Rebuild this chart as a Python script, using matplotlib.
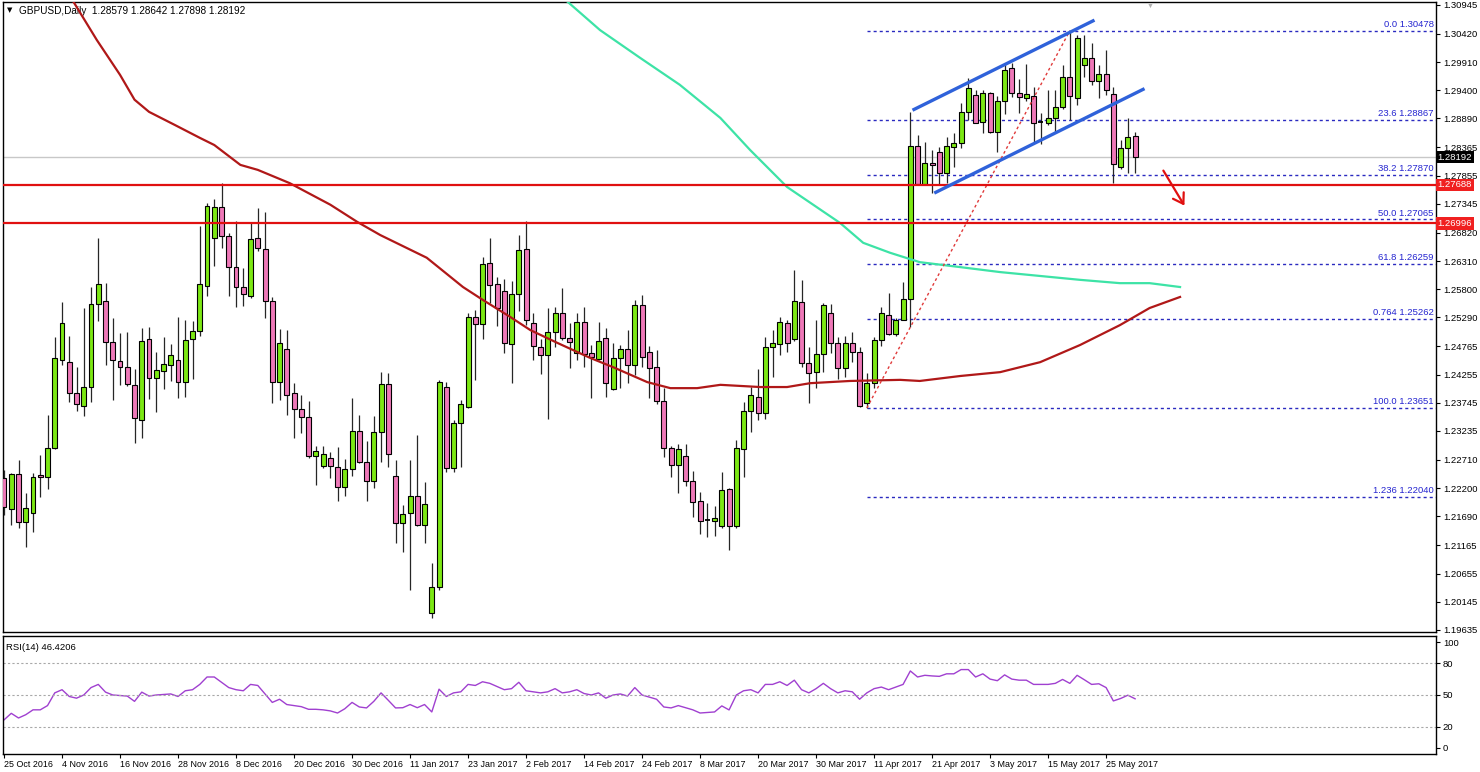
import matplotlib
matplotlib.use("Agg")
import matplotlib.pyplot as plt
from matplotlib.patches import Rectangle

plt.rcParams['font.family'] = ['Liberation Sans', 'DejaVu Sans']

# ---------------- data ----------------
opens = [1.2238, 1.2182, 1.2246, 1.2159, 1.2175, 1.2243, 1.2240, 1.2293, 1.2452, 1.2448,
         1.2392, 1.2369, 1.2403, 1.2553, 1.2559, 1.2485, 1.2450, 1.2439, 1.2407, 1.2343,
         1.2490, 1.2419, 1.2432, 1.2443, 1.2452, 1.2412, 1.2490, 1.2505, 1.2586, 1.2673,
         1.2729, 1.2676, 1.2620, 1.2584, 1.2568, 1.2673, 1.2653, 1.2559, 1.2412, 1.2472,
         1.2392, 1.2363, 1.2349, 1.2278, 1.2260, 1.2275, 1.2258, 1.2222, 1.2255, 1.2323,
         1.2267, 1.2233, 1.2322, 1.2409, 1.2242, 1.2157, 1.2175, 1.2206, 1.2153, 1.1994,
         1.2041, 1.2403, 1.2257, 1.2338, 1.2367, 1.2530, 1.2517, 1.2628, 1.2590, 1.2577,
         1.2481, 1.2572, 1.2653, 1.2519, 1.2475, 1.2461, 1.2503, 1.2537, 1.2492, 1.2465,
         1.2521, 1.2465, 1.2454, 1.2492, 1.2400, 1.2456, 1.2471, 1.2443, 1.2552, 1.2467,
         1.2439, 1.2378, 1.2293, 1.2262, 1.2278, 1.2233, 1.2197, 1.2162, 1.2161, 1.2152,
         1.2219, 1.2152, 1.2291, 1.2360, 1.2385, 1.2356, 1.2476, 1.2481, 1.2519, 1.2490,
         1.2557, 1.2447, 1.2430, 1.2463, 1.2537, 1.2483, 1.2438, 1.2483, 1.2467, 1.2374,
         1.2410, 1.2488, 1.2534, 1.2499, 1.2524, 1.2562, 1.2839, 1.2771, 1.2809, 1.2829,
         1.2790, 1.2838, 1.2845, 1.2901, 1.2932, 1.2883, 1.2935, 1.2864, 1.2921, 1.2980,
         1.2935, 1.2926, 1.2930, 1.2883, 1.2881, 1.2890, 1.2910, 1.2964, 1.2926, 1.2986,
         1.2999, 1.2957, 1.2970, 1.2933, 1.2801, 1.2836, 1.28579]
highs = [1.2253, 1.2248, 1.2271, 1.2211, 1.2248, 1.2280, 1.2352, 1.2494, 1.2557, 1.2495,
         1.2439, 1.2546, 1.2584, 1.2673, 1.2591, 1.2528, 1.2501, 1.2503, 1.2436, 1.2510,
         1.2512, 1.2467, 1.2494, 1.2481, 1.2530, 1.2524, 1.2523, 1.2695, 1.2736, 1.2743,
         1.2772, 1.2682, 1.2704, 1.2619, 1.2700, 1.2727, 1.2720, 1.2566, 1.2508, 1.2506,
         1.2410, 1.2389, 1.2378, 1.2296, 1.2296, 1.2285, 1.2294, 1.2273, 1.2383, 1.2352,
         1.2305, 1.2351, 1.2430, 1.2428, 1.2271, 1.2190, 1.2271, 1.2316, 1.2231, 1.2085,
         1.2416, 1.2412, 1.2343, 1.2380, 1.2537, 1.2543, 1.2638, 1.2673, 1.2602, 1.2599,
         1.2595, 1.2678, 1.2704, 1.2537, 1.2490, 1.2546, 1.2548, 1.2582, 1.2519, 1.2537,
         1.2548, 1.2479, 1.2521, 1.2510, 1.2483, 1.2479, 1.2506, 1.2561, 1.2570, 1.2477,
         1.2470, 1.2401, 1.2296, 1.2300, 1.2300, 1.2251, 1.2213, 1.2193, 1.2188, 1.2249,
         1.2220, 1.2307, 1.2376, 1.2403, 1.2436, 1.2494, 1.2506, 1.2530, 1.2524, 1.2615,
         1.2597, 1.2476, 1.2524, 1.2555, 1.2553, 1.2494, 1.2495, 1.2503, 1.2476, 1.2429,
         1.2494, 1.2548, 1.2573, 1.2528, 1.2593, 1.2901, 1.2859, 1.2847, 1.2832, 1.2838,
         1.2856, 1.2863, 1.2917, 1.2962, 1.2941, 1.2941, 1.2937, 1.2930, 1.2990, 1.2990,
         1.2961, 1.2988, 1.2946, 1.2899, 1.2941, 1.2941, 1.2986, 1.30478, 1.3040, 1.3040,
         1.3026, 1.2986, 1.3013, 1.2946, 1.2850, 1.2890, 1.28642]
lows = [1.2172, 1.2153, 1.2148, 1.2114, 1.2141, 1.2204, 1.2218, 1.2290, 1.2443, 1.2376,
        1.2360, 1.2351, 1.2376, 1.2523, 1.2443, 1.2380, 1.2407, 1.2405, 1.2302, 1.2311,
        1.2381, 1.2358, 1.2400, 1.2414, 1.2383, 1.2385, 1.2418, 1.2495, 1.2568, 1.2622,
        1.2655, 1.2568, 1.2548, 1.2550, 1.2564, 1.2649, 1.2528, 1.2374, 1.2380, 1.2352,
        1.2311, 1.2320, 1.2275, 1.2226, 1.2256, 1.2238, 1.2197, 1.2206, 1.2242, 1.2266,
        1.2197, 1.2220, 1.2267, 1.2258, 1.2121, 1.2104, 1.2036, 1.2152, 1.2121, 1.1985,
        1.2036, 1.2249, 1.2249, 1.2258, 1.2365, 1.2416, 1.2490, 1.2555, 1.2514, 1.2465,
        1.2410, 1.2541, 1.2515, 1.2452, 1.2427, 1.2345, 1.2476, 1.2488, 1.2438, 1.2452,
        1.2439, 1.2383, 1.2452, 1.2385, 1.2398, 1.2401, 1.2410, 1.2425, 1.2439, 1.2383,
        1.2372, 1.2276, 1.2240, 1.2211, 1.2224, 1.2168, 1.2137, 1.2132, 1.2133, 1.2148,
        1.2108, 1.2148, 1.2240, 1.2322, 1.2343, 1.2345, 1.2421, 1.2461, 1.2467, 1.2486,
        1.2439, 1.2374, 1.2401, 1.2430, 1.2465, 1.2418, 1.2421, 1.2448, 1.2367, 1.23651,
        1.2401, 1.2477, 1.2497, 1.2495, 1.2524, 1.2512, 1.2769, 1.2770, 1.2754, 1.2769,
        1.2772, 1.2801, 1.2836, 1.2886, 1.2880, 1.2863, 1.2862, 1.2828, 1.2897, 1.2928,
        1.2899, 1.2921, 1.2847, 1.2843, 1.2877, 1.2863, 1.2906, 1.2886, 1.2914, 1.2964,
        1.2950, 1.2926, 1.2932, 1.2772, 1.2798, 1.2790, 1.27898]
closes = [1.2186, 1.2246, 1.2159, 1.2184, 1.2240, 1.2240, 1.2293, 1.2456, 1.2519, 1.2392,
          1.2372, 1.2403, 1.2553, 1.2590, 1.2485, 1.2452, 1.2439, 1.2409, 1.2347, 1.2486,
          1.2419, 1.2434, 1.2445, 1.2461, 1.2412, 1.2488, 1.2505, 1.2590, 1.2731, 1.2729,
          1.2676, 1.2620, 1.2584, 1.2572, 1.2671, 1.2655, 1.2559, 1.2412, 1.2483, 1.2389,
          1.2363, 1.2349, 1.2278, 1.2287, 1.2282, 1.2260, 1.2222, 1.2255, 1.2323, 1.2267,
          1.2233, 1.2322, 1.2409, 1.2282, 1.2157, 1.2173, 1.2206, 1.2153, 1.2191, 1.2041,
          1.2412, 1.2257, 1.2338, 1.2372, 1.2530, 1.2517, 1.2626, 1.2588, 1.2546, 1.2483,
          1.2572, 1.2651, 1.2524, 1.2477, 1.2461, 1.2503, 1.2537, 1.2492, 1.2485, 1.2521,
          1.2463, 1.2457, 1.2486, 1.2410, 1.2456, 1.2471, 1.2443, 1.2552, 1.2457, 1.2438,
          1.2378, 1.2293, 1.2262, 1.2291, 1.2233, 1.2195, 1.2161, 1.2161, 1.2166, 1.2217,
          1.2152, 1.2293, 1.2360, 1.2389, 1.2356, 1.2476, 1.2483, 1.2521, 1.2483, 1.2559,
          1.2447, 1.2429, 1.2463, 1.2552, 1.2483, 1.2438, 1.2483, 1.2467, 1.2369, 1.2410,
          1.2488, 1.2537, 1.2499, 1.2524, 1.2562, 1.2839, 1.2771, 1.2809, 1.2805, 1.2790,
          1.2839, 1.2845, 1.2901, 1.2944, 1.2881, 1.2935, 1.2864, 1.2921, 1.2977, 1.2935,
          1.2928, 1.2934, 1.2881, 1.2882, 1.2890, 1.2910, 1.2964, 1.2930, 1.3035, 1.2999,
          1.2957, 1.2970, 1.2941, 1.2807, 1.2836, 1.2856, 1.28192]

rsi = [26.5, 32.7, 28.3, 31.4, 36, 36, 40, 52, 55, 48.6, 47, 50, 57, 60, 52.7, 50, 49.5, 49,
       44, 52.7, 49, 50, 50.5, 51, 48.6, 54, 55, 60, 67, 67, 62, 57, 55, 54, 60, 59, 51, 43,
       46, 41, 40, 39, 36.5, 36.5, 36, 35, 33, 37, 43, 38.7, 37.8, 44, 52, 45, 37.8, 38, 41,
       38, 41, 34, 55.5, 48.6, 52, 53, 60, 59, 62.5, 61, 58, 55, 56, 62, 54, 53, 52, 53, 56,
       52, 53, 55, 51.4, 50, 52, 47, 50, 51, 49, 57, 50, 48, 46, 38.7, 37.8, 40, 38, 36, 33,
       33.5, 34, 39.7, 35.9, 50, 54, 55, 52, 60, 60, 62.5, 59, 64, 55, 52, 56, 61, 56, 52, 54,
       53, 46, 52, 56, 57.5, 55, 57.5, 60, 72.7, 67, 68.6, 68, 67.6, 70, 70, 74, 74, 67, 70,
       65, 63.5, 69, 65, 64, 64, 60, 60, 60, 61, 64.7, 61, 68.6, 64.4, 60, 60.6, 57, 44.4,
       46.7, 49.8, 46.4206]

# moving averages (bar index, price)
ma_red_idx = [8, 9.4, 12.8, 16, 18, 20, 23.6, 27, 29, 32.6, 35, 39.4, 45, 48.7, 51.9, 58.3,
              60, 63.3, 66, 69.8, 72.6, 76.3, 80.8, 84, 88.7, 91.9, 95.6, 98.8, 104.3, 108,
              111.2, 116.7, 123.6, 126.3, 131.9, 137.4, 142.9, 148.4, 153.9, 158, 162.2]
ma_red_val = [1.3131, 1.3104, 1.3031, 1.2968, 1.2923, 1.2901, 1.2877, 1.2854, 1.2841, 1.2805,
              1.2796, 1.2772, 1.2733, 1.2702, 1.2678, 1.2637, 1.2619, 1.2584, 1.2561, 1.2530,
              1.2506, 1.2483, 1.2456, 1.2439, 1.2412, 1.2401, 1.2401, 1.2407, 1.2403, 1.2403,
              1.2410, 1.2414, 1.2416, 1.2414, 1.2423, 1.2430, 1.2448, 1.2479, 1.2515, 1.2546,
              1.2566]
ma_teal_idx = [76, 77.4, 82.2, 87.7, 93.2, 98.8, 102.9, 108, 115.3, 118.5, 122.2, 126.3,
               131.9, 137.4, 142.9, 148.4, 153.9, 158, 162.2]
ma_teal_val = [1.3118, 1.3104, 1.3049, 1.2999, 1.2950, 1.2890, 1.2832, 1.2765, 1.2700, 1.2664,
               1.2646, 1.2629, 1.2620, 1.2611, 1.2604, 1.2597, 1.2591, 1.2591, 1.2584]

date_labels = ["25 Oct 2016", "4 Nov 2016", "16 Nov 2016", "28 Nov 2016", "8 Dec 2016",
               "20 Dec 2016", "30 Dec 2016", "11 Jan 2017", "23 Jan 2017", "2 Feb 2017",
               "14 Feb 2017", "24 Feb 2017", "8 Mar 2017", "20 Mar 2017", "30 Mar 2017",
               "11 Apr 2017", "21 Apr 2017", "3 May 2017", "15 May 2017", "25 May 2017"]
date_idx = [0, 8, 16, 24, 32, 40, 48, 56, 64, 72, 80, 88, 96, 104, 112, 120, 128, 136, 144, 152]

price_ticks = [1.30945, 1.30420, 1.29910, 1.29400, 1.28890, 1.28365, 1.27855, 1.27345,
               1.26820, 1.26310, 1.25800, 1.25290, 1.24765, 1.24255, 1.23745, 1.23235,
               1.22710, 1.22200, 1.21690, 1.21165, 1.20655, 1.20145, 1.19635]

fib_names = ["0.0", "23.6", "38.2", "50.0", "61.8", "0.764", "100.0", "1.236"]
fib_vals = [1.30478, 1.28867, 1.27870, 1.27065, 1.26259, 1.25262, 1.23651, 1.22040]
fib_start = 119
fib_trend_idx = [119, 147]
fib_trend_val = [1.23651, 1.30478]

resist_levels = [1.27688, 1.26996]
last_price = 1.28192

chan_up_idx = [125.3, 150.4]
chan_up_val = [1.2904, 1.3067]
chan_lo_idx = [128.3, 157.3]
chan_lo_val = [1.2754, 1.2943]

arrow_idx = [159.7, 163.0]
arrow_val = [1.2799, 1.2727]

rsi_levels = [20, 50, 80]
rsi_ticks = [0, 20, 50, 80, 100]

# ---------------- figure ----------------
W, H = 1480, 772
fig = plt.figure(figsize=(W / 100, H / 100), dpi=100)
fig.patch.set_facecolor('white')

L, R = 3, 1436
ax = fig.add_axes([L / W, 1 - 632 / H, (R - L) / W, (632 - 2) / H])
rx = fig.add_axes([L / W, 1 - 754 / H, (R - L) / W, (754 - 636) / H])

xmin, xmax = -0.14, 197.5
GREEN = '#7CE814'
PINK = '#EE78B8'
FS = 6.8
FSD = 6.4

# candles
for i in range(len(opens)):
    o, h, l, c = opens[i], highs[i], lows[i], closes[i]
    ax.vlines(i, l, h, color='#262626', lw=0.9, zorder=3)
    if abs(c - o) < 0.00015:
        ax.hlines(o, i - 0.34, i + 0.34, color='black', lw=1.3, zorder=4)
    else:
        col = GREEN if c > o else PINK
        ax.add_patch(Rectangle((i - 0.34, min(o, c)), 0.68, abs(c - o), facecolor=col,
                               edgecolor='black', lw=0.8, zorder=4))

# MAs
ax.plot(ma_red_idx, ma_red_val, color='#B01818', lw=1.6, zorder=5)
ax.plot(ma_teal_idx, ma_teal_val, color='#3DE3A6', lw=1.6, zorder=5)

# current price line
ax.axhline(last_price, color='#C8C8C8', lw=1.0, zorder=1)

# resistance lines
for v in resist_levels:
    ax.axhline(v, color='#E01010', lw=1.6, zorder=6)

# fib
ax.hlines(fib_vals, fib_start, xmax, colors='#2A2AC0', linestyles=(0, (2.2, 2.2)), lw=1.0, zorder=2)
for nme, v in zip(fib_names, fib_vals):
    ax.text(xmax - 0.3, v + 0.0003, f"{nme} {v:.5f}", color='#2525D0', fontsize=FS,
            ha='right', va='bottom', zorder=7)
ax.plot(fib_trend_idx, fib_trend_val, color='#E03A3A', ls=(0, (2, 2)), lw=1.0, zorder=5)

# channel
ax.plot(chan_up_idx, chan_up_val, color='#2F62DA', lw=2.4, zorder=6, solid_capstyle='butt')
ax.plot(chan_lo_idx, chan_lo_val, color='#2F62DA', lw=2.4, zorder=6, solid_capstyle='butt')

# arrow
ax.annotate('', xy=(arrow_idx[1], arrow_val[1]), xytext=(arrow_idx[0], arrow_val[0]),
            arrowprops=dict(arrowstyle='->,head_length=0.7,head_width=0.45', color='#E01010', lw=1.6),
            zorder=7)

# small shift marker at top
ax.text(158, 1.3099, "\u25BC", color='#B0B0B0', fontsize=5, ha='center', va='top', zorder=7)

ax.set_xlim(xmin, xmax)
ax.set_ylim(1.19597, 1.30998)
ax.set_xticks([])
ax.yaxis.tick_right()
ax.set_yticks(price_ticks)
ax.set_yticklabels([f"{v:.5f}" for v in price_ticks])
ax.tick_params(axis='y', labelsize=FS, length=3, width=0.8, pad=2, colors='black')
for s in ax.spines.values():
    s.set_linewidth(1.0)

# price boxes on right axis
for v, fc in [(last_price, 'black'), (resist_levels[0], '#F02020'), (resist_levels[1], '#F02020')]:
    ax.text(1.0012, v, f"{v:.5f}", transform=ax.get_yaxis_transform(), ha='left', va='center',
            color='white', fontsize=FS, zorder=10, clip_on=False,
            bbox=dict(boxstyle='square,pad=0.2', fc=fc, ec='none'))

# title
ax.text(0.003, 0.992, "\u25BC", transform=ax.transAxes, fontsize=5, va='top', ha='left',
        family='DejaVu Sans')
ax.text(0.011, 0.994, "GBPUSD,Daily  1.28579 1.28642 1.27898 1.28192", transform=ax.transAxes,
        fontsize=7.2, va='top', ha='left')

# RSI
rx.plot(range(len(rsi)), rsi, color='#A040D0', lw=1.0)
for lv in rsi_levels:
    rx.axhline(lv, color='#A8A8A8', lw=0.8, ls=(0, (2, 2)))
rx.set_xlim(xmin, xmax)
rx.set_ylim(-5.7, 105.7)
rx.yaxis.tick_right()
rx.set_yticks(rsi_ticks)
rx.set_yticklabels([str(t) for t in rsi_ticks])
rx.tick_params(axis='y', labelsize=FS, length=3, width=0.8, pad=2)
rx.set_xticks(date_idx)
rx.set_xticklabels(date_labels, ha='left')
rx.tick_params(axis='x', labelsize=FSD, length=3, width=0.8, pad=1.5)
rx.text(0.002, 0.94, "RSI(14) 46.4206", transform=rx.transAxes, fontsize=FS, va='top', ha='left')
for s in rx.spines.values():
    s.set_linewidth(1.0)

fig.savefig("out.png", dpi=100, facecolor='white')
